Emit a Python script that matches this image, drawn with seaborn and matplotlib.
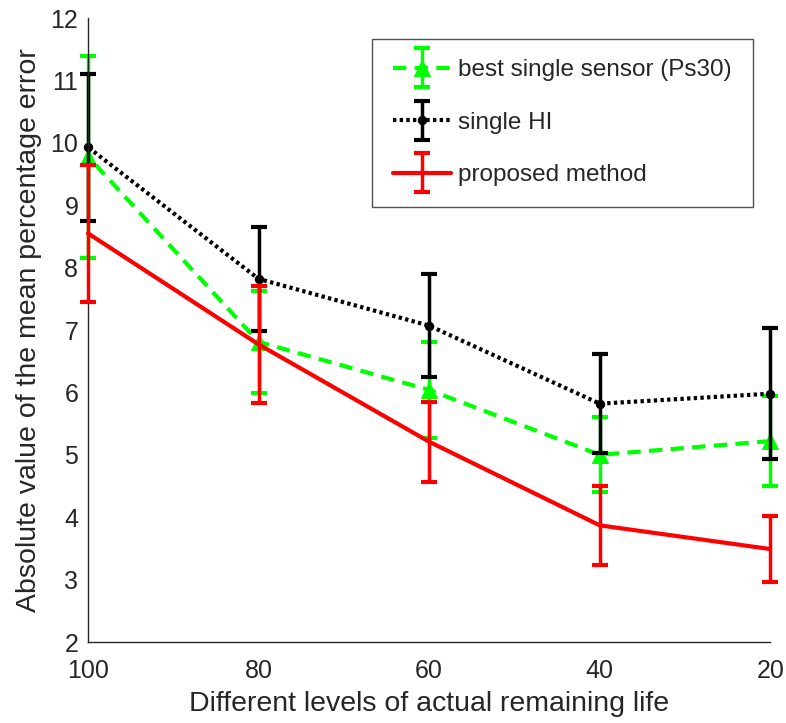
import matplotlib
matplotlib.use("Agg")
import matplotlib.pyplot as plt
import seaborn as sns
import pandas as pd
from matplotlib.container import ErrorbarContainer
from matplotlib.legend_handler import HandlerTuple, HandlerErrorbar

# remaining-life levels (%) on the x axis
levels = [100, 80, 60, 40, 20]

# mean absolute percentage error and error-bar half widths per method
sensor_mean = [9.78, 6.81, 6.04, 5.00, 5.22]
sensor_err = [1.62, 0.82, 0.77, 0.60, 0.72]
hi_mean = [9.93, 7.82, 7.07, 5.82, 5.98]
hi_err = [1.18, 0.83, 0.83, 0.79, 1.05]
prop_mean = [8.55, 6.77, 5.21, 3.87, 3.49]
prop_err = [1.10, 0.94, 0.64, 0.63, 0.53]

labels = ["best single sensor (Ps30)", "single HI", "proposed method"]

sns.set_theme(style="white")
plt.rcParams["font.family"] = ["Liberation Sans", "DejaVu Sans"]

fig = plt.figure(figsize=(7.86, 7.23), dpi=100)
ax = fig.add_axes([0.112, 0.112, 0.868, 0.863])

series = [
    (sensor_mean, sensor_err, "#00ff00", (0, (3.2, 2.0)), "^", 11, 1),
    (hi_mean, hi_err, "black", (0, (0.8, 0.8)), "o", 6, 2),
    (prop_mean, prop_err, "#ff0000", "-", None, 0, 3),
]

handles = []
for (mean, err, color, ls, marker, ms, z), lab in zip(series, labels):
    df = pd.DataFrame({"level": levels, "value": mean})
    sns.lineplot(data=df, x="level", y="value", ax=ax, color=color,
                 linewidth=3.0, linestyle=ls, marker=marker,
                 markersize=ms, markeredgecolor=color, legend=False,
                 zorder=z)
    line = ax.get_lines()[-1]
    line.set_clip_on(False)
    eb = ax.errorbar(levels, mean, yerr=err, fmt="none", ecolor=color,
                     elinewidth=2.5, capsize=6, capthick=3.0, zorder=z + 0.5)
    for art in eb.get_children():
        art.set_clip_on(False)
    handles.append((line, eb))

ax.set_xlim(100, 20)
ax.set_ylim(2, 12)
ax.set_xticks(levels)
ax.set_yticks(range(2, 13))

text_c = "#262626"
ax.set_xlabel("Different levels of actual remaining life", fontsize=20.5,
              color=text_c, labelpad=6)
ax.set_ylabel("Absolute value of the mean percentage error", fontsize=20.5,
              color=text_c, labelpad=6)
ax.tick_params(axis="both", direction="in", length=7, width=1.0,
               colors=text_c, labelsize=18)
ax.tick_params(axis="x", pad=12)
ax.tick_params(axis="y", pad=7)
for side in ["top", "right"]:
    ax.spines[side].set_visible(False)
for side in ["left", "bottom"]:
    ax.spines[side].set_color(text_c)
    ax.spines[side].set_linewidth(1.0)

leg = ax.legend(handles, labels,
                handler_map={tuple: HandlerTuple(ndivide=1),
                             ErrorbarContainer: HandlerErrorbar(yerr_size=0.8)},
                loc="upper right", bbox_to_anchor=(0.974, 0.967),
                fontsize=17.5, frameon=True, fancybox=False,
                handlelength=2.4, borderpad=0.85, labelspacing=1.25,
                handletextpad=0.3, borderaxespad=0)
leg.get_frame().set_edgecolor(text_c)
leg.get_frame().set_linewidth(1.0)

fig.savefig("out.png", dpi=100, facecolor="white")
